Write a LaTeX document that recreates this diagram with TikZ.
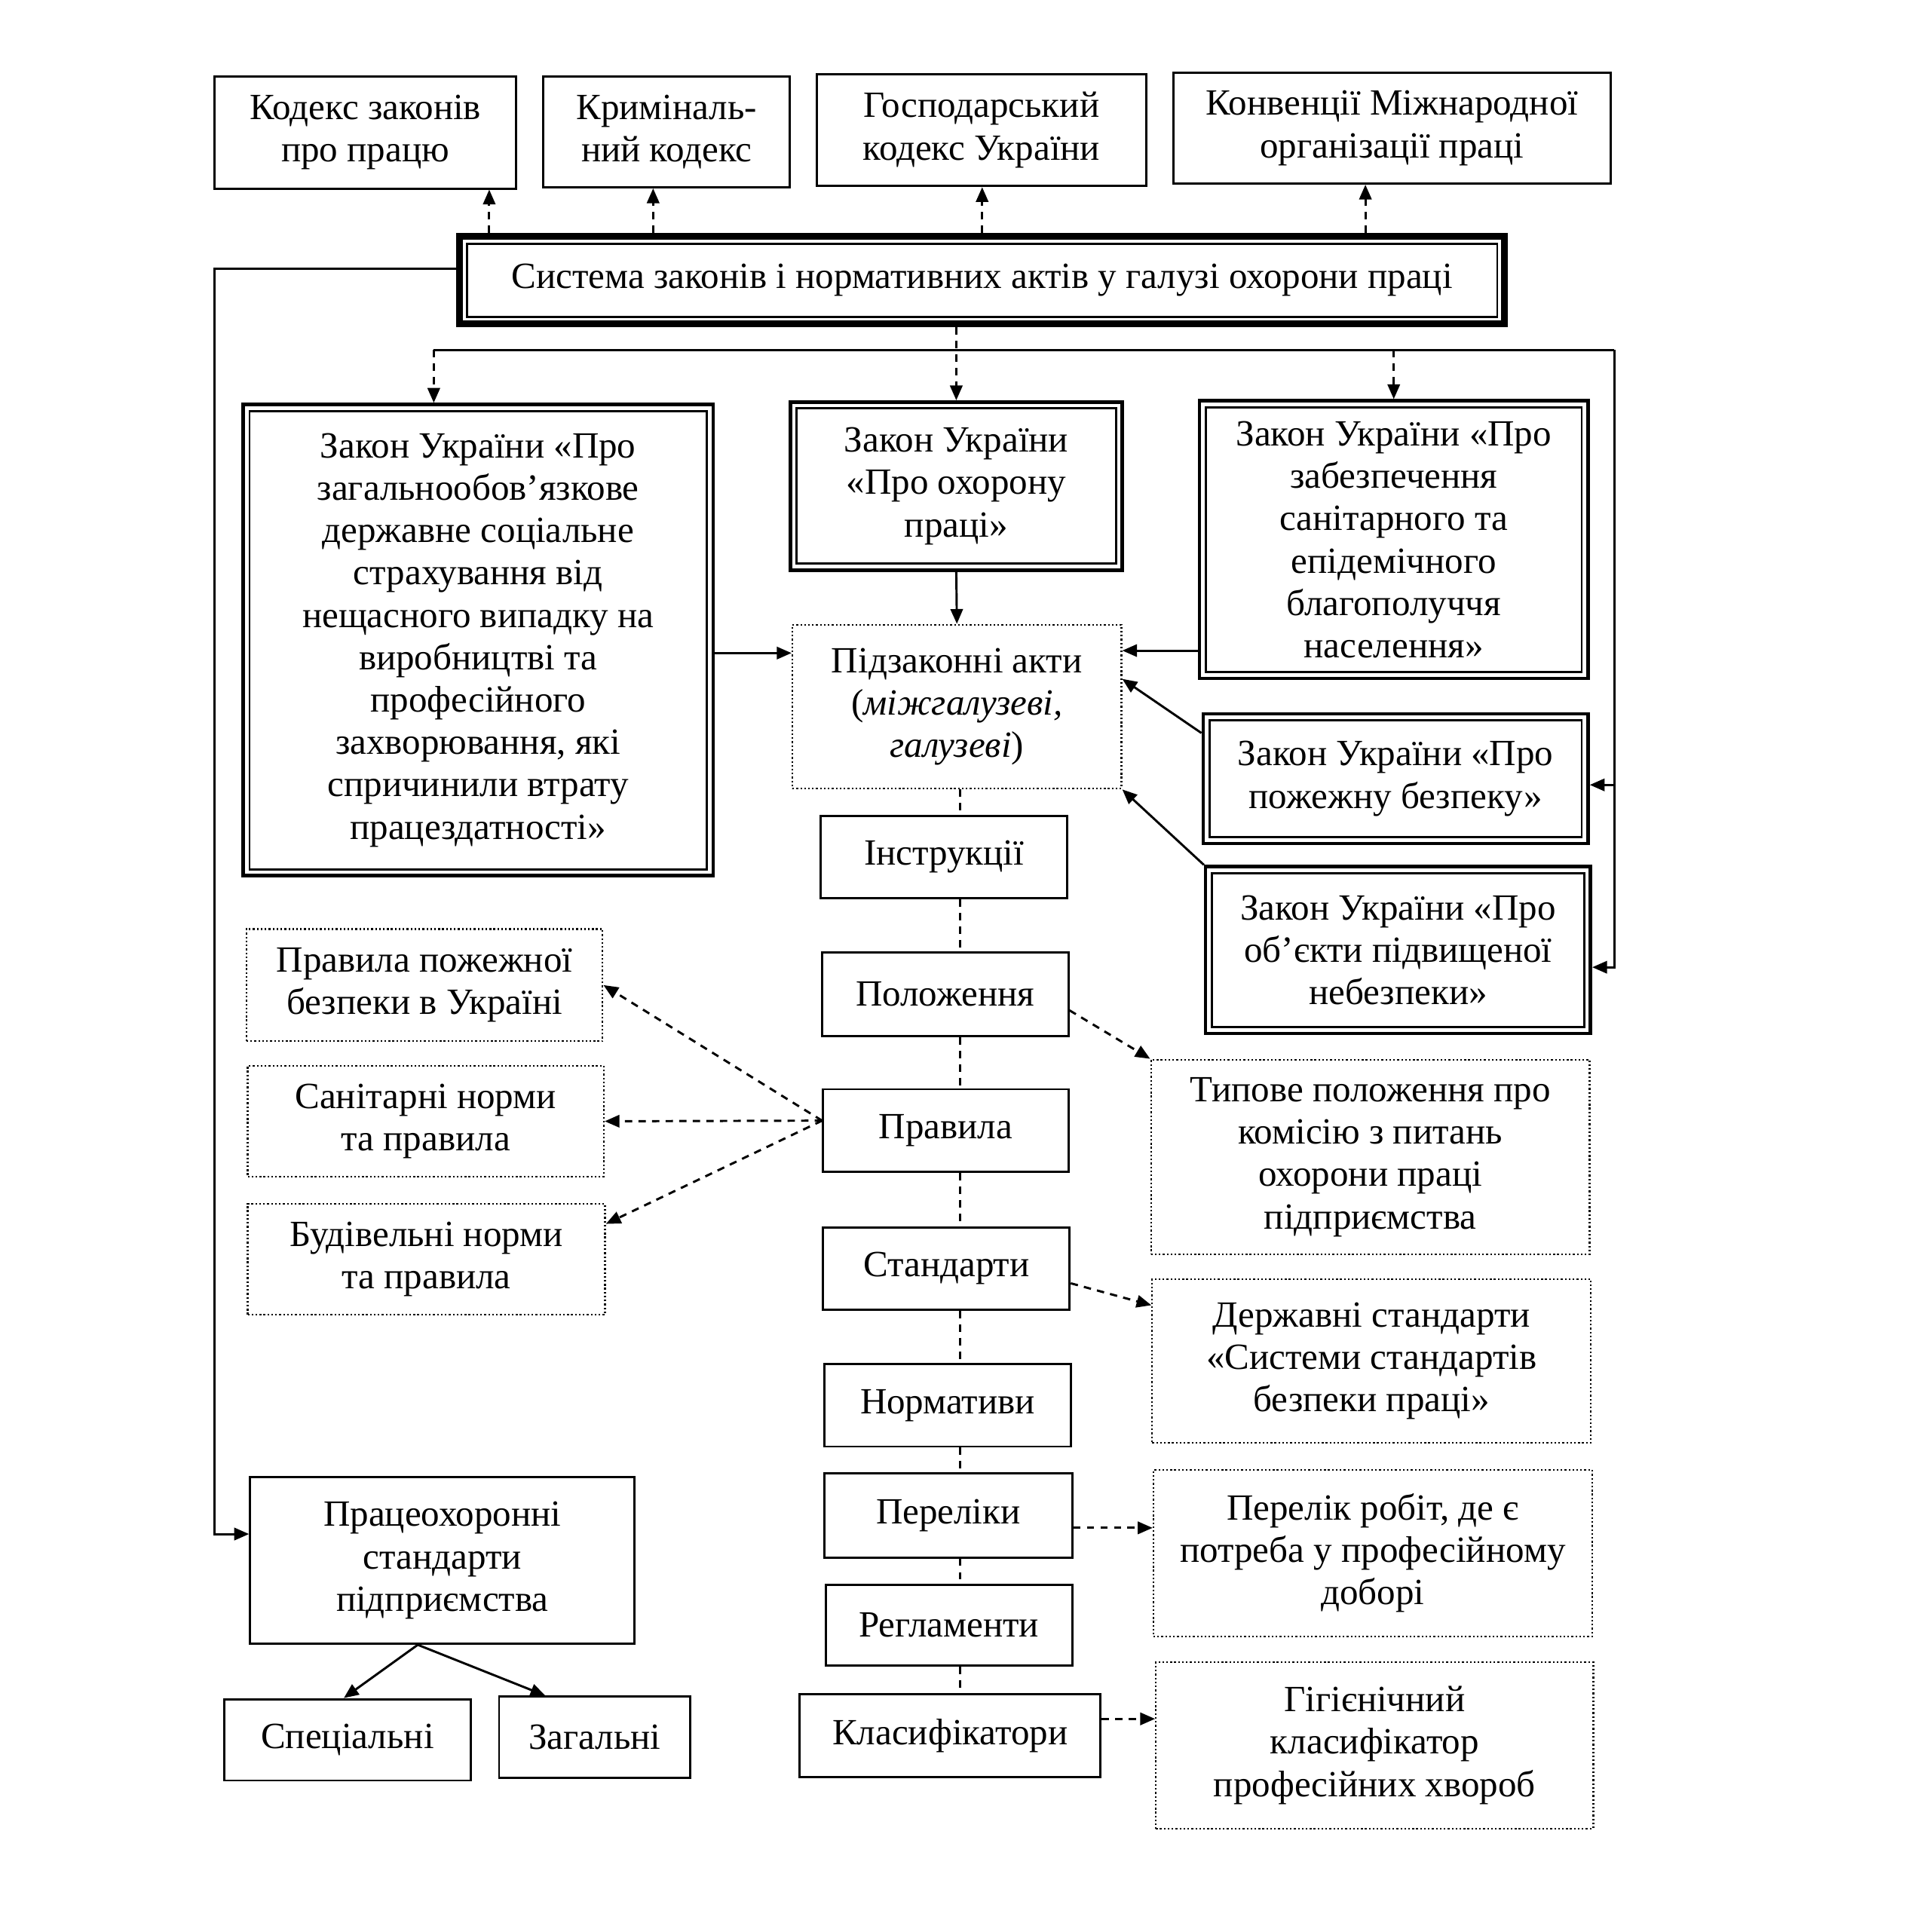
\documentclass[tikz,border=0pt]{standalone}
\usepackage{fontspec}
\setmainfont{Liberation Serif}
\usetikzlibrary{arrows.meta,calc}
\tikzset{
  txt/.style={font=\fontsize{15pt}{17.2pt}\selectfont, align=center, inner sep=0pt},
  plainbox/.style={txt, draw, line width=0.9pt, outer sep=0.45pt},
  dotbox/.style={txt, draw, line width=0.7pt, dash pattern=on 0.7pt off 0.9pt, outer sep=0.35pt},
  dblbox/.style={txt, draw, line width=1.4pt, outer sep=0.7pt,
    path picture={\draw[line width=0.9pt] ([xshift=2.6pt,yshift=-2.6pt]path picture bounding box.north west) rectangle ([xshift=-2.6pt,yshift=2.6pt]path picture bounding box.south east);}},
  sysbox/.style={txt, draw, line width=2.8pt, outer sep=1.4pt,
    path picture={\draw[line width=0.9pt] ([xshift=3pt,yshift=-3pt]path picture bounding box.north west) rectangle ([xshift=-3pt,yshift=3pt]path picture bounding box.south east);}},
  conn/.style={line width=0.9pt},
  sarr/.style={conn, -{Triangle[length=6pt,width=5pt]}},
  darr/.style={conn, dash pattern=on 3pt off 2.5pt, -{Triangle[length=6pt,width=5pt]}},
  dline/.style={conn, dash pattern=on 3pt off 2.5pt},
}
\begin{document}
\begin{tikzpicture}[x=0.5pt,y=-0.5pt]
\useasboundingbox (0,0) rectangle (1566,1568);

% top row
\node[plainbox, minimum width=122.5pt, minimum height=45.5pt] (k1) at (296.5,107.5) {Кодекс законів\\про працю};
\node[plainbox, minimum width=100pt, minimum height=45pt] (k2) at (541,107) {Криміналь-\\ний кодекс};
\node[plainbox, minimum width=133.5pt, minimum height=45.5pt] (k3) at (796.5,105.5) {Господарський\\кодекс України};
\node[plainbox, minimum width=177.5pt, minimum height=45pt] (k4) at (1129.5,104) {Конвенції Міжнародної\\організації праці};

% system
\node[sysbox, minimum width=424pt, minimum height=35.5pt] (sys) at (797,227.5) {Система законів і нормативних актів у галузі охорони праці};

% laws
\node[dblbox, minimum width=190.7pt, minimum height=191.2pt] (bl) at (388,519.5) {Закон України «Про\\загальнообов’язкове\\державне соціальне\\страхування від\\нещасного випадку на\\виробництві та\\професійного\\захворювання, які\\спричинили втрату\\працездатності»};
\node[dblbox, minimum width=134.7pt, minimum height=68.2pt] (ml) at (776,394.5) {Закон України\\«Про охорону\\праці»};
\node[dblbox, minimum width=157.7pt, minimum height=112.7pt] (rl) at (1131,438) {Закон України «Про\\забезпечення\\санітарного та\\епідемічного\\благополуччя\\населення»};
\node[dblbox, minimum width=156.2pt, minimum height=52.7pt] (pz) at (1132.5,632) {Закон України «Про\\пожежну безпеку»};
\node[dblbox, minimum width=156.2pt, minimum height=67.7pt] (ob) at (1134.5,771) {Закон України «Про\\об’єкти підвищеної\\небезпеки»};

% by-laws
\node[dotbox, minimum width=133.5pt, minimum height=66.5pt] (pa) at (776.5,573.5) {Підзаконні акти\\(\textit{міжгалузеві,}\\\textit{галузеві})};

% middle column
\node[plainbox, minimum width=100pt, minimum height=33.5pt] (in) at (766,695.5) {Інструкції};
\node[plainbox, minimum width=100pt, minimum height=34pt] (po) at (767,807) {Положення};
\node[plainbox, minimum width=99.5pt, minimum height=33.5pt] (pv) at (767.5,917.5) {Правила};
\node[plainbox, minimum width=100pt, minimum height=33.5pt] (st) at (768,1029.5) {Стандарти};
\node[plainbox, minimum width=100pt, minimum height=33.5pt] (nr) at (769,1140.5) {Нормативи};
\node[plainbox, minimum width=100.5pt, minimum height=34pt] (pl) at (769.5,1230) {Переліки};
\node[plainbox, minimum width=100pt, minimum height=33pt] (rg) at (770,1319) {Регламенти};
\node[plainbox, minimum width=122pt, minimum height=33.5pt] (kl) at (771,1408.5) {Класифікатори};

% left dotted
\node[dotbox, minimum width=144.5pt, minimum height=45.5pt] (pp) at (344.5,799.5) {Правила пожежної\\безпеки в Україні};
\node[dotbox, minimum width=144.5pt, minimum height=45pt] (sn) at (345.5,910) {Санітарні норми\\та правила};
\node[dotbox, minimum width=145pt, minimum height=45pt] (bd) at (346,1022) {Будівельні норми\\та правила};

% right dotted
\node[dotbox, minimum width=178pt, minimum height=79pt] (tp) at (1112,939) {Типове положення про\\комісію з питань\\охорони праці\\підприємства};
\node[dotbox, minimum width=178pt, minimum height=66.5pt] (ds) at (1113,1104.5) {Державні стандарти\\«Системи стандартів\\безпеки праці»};
\node[dotbox, minimum width=178pt, minimum height=67.5pt] (pr2) at (1114,1260.5) {Перелік робіт, де є\\потреба у професійному\\доборі};
\node[dotbox, minimum width=177.5pt, minimum height=67.5pt] (gg) at (1115.5,1416.5) {Гігієнічний\\класифікатор\\професійних хвороб};

% enterprise standards
\node[plainbox, minimum width=156pt, minimum height=67.5pt] (ps) at (359,1266.5) {Працеохоронні\\стандарти\\підприємства};
\node[plainbox, minimum width=100pt, minimum height=33pt] (sp) at (282,1412) {Спеціальні};
\node[plainbox, minimum width=77.5pt, minimum height=33pt] (zg) at (482.5,1410) {Загальні};

% coordinates
\coordinate (c1) at (397,0);
\coordinate (c2) at (530,0);
\coordinate (c3) at (797,0);
\coordinate (c4) at (1108,0);
\coordinate (fbTop) at (174,218);
\coordinate (fbBot) at (174,1245);
\coordinate (busL) at (352,284);
\coordinate (busR) at (1310,284);
\coordinate (rPz) at (1310,637);
\coordinate (rOb) at (1310,785);
\coordinate (yA) at (0,530);
\coordinate (yB) at (0,528);
\coordinate (colx) at (779,0);
\coordinate (yP) at (0,1240);
\coordinate (yK) at (0,1395);
\coordinate (pvS) at ($(pv.west)+(0,-8)$);
\coordinate (psA) at ($(ps.south)+(-20,0)$);

% top dashed arrows
\draw[darr] (sys.north -| c1) -- (k1.south -| c1);
\draw[darr] (sys.north -| c2) -- (k2.south -| c2);
\draw[darr] (sys.north -| c3) -- (k3.south -| c3);
\draw[darr] (sys.north -| c4) -- (k4.south -| c4);

% left feedback
\draw[sarr] (sys.west |- fbTop) -- (fbTop) -- (fbBot) -- (ps.west |- fbBot);

% bus
\draw[conn] (busL) -- (busR);
\draw[darr] (sys.south -| ml.north) -- (ml.north);
\draw[darr] (busL) -- (busL |- bl.north);
\draw[darr] (rl.north |- busL) -- (rl.north);
\draw[sarr] (busR) -- (rOb) -- (ob.east |- rOb);
\draw[sarr] (rPz) -- (pz.east |- rPz);

% into by-laws
\draw[sarr] (ml.south) -- (pa.north);
\draw[sarr] (bl.east |- yA) -- (pa.west |- yA);
\draw[sarr] (rl.west |- yB) -- (pa.east |- yB);
\draw[sarr] ($(pz.north west)+(0,17)$) -- ($(pa.east)+(0,-22.5)$);
\draw[sarr] (ob.north west) -- (pa.south east);

% middle column
\draw[dline] (pa.south -| colx) -- (in.north -| colx);
\draw[dline] (in.south -| colx) -- (po.north -| colx);
\draw[dline] (po.south -| colx) -- (pv.north -| colx);
\draw[dline] (pv.south -| colx) -- (st.north -| colx);
\draw[dline] (st.south -| colx) -- (nr.north -| colx);
\draw[dline] (nr.south -| colx) -- (pl.north -| colx);
\draw[dline] (pl.south -| colx) -- (rg.north -| colx);
\draw[dline] (rg.south -| colx) -- (kl.north -| colx);

% Правила to left
\draw[darr] (pvS) -- (pp.east);
\draw[darr] (pvS) -- (sn.east);
\draw[darr] (pvS) -- ($(bd.north east)+(0,17)$);

% right dashed arrows
\draw[darr] ($(po.east)+(0,13)$) -- (tp.north west);
\draw[darr] ($(st.east)+(0,12)$) -- ($(ds.north west)+(0,22)$);
\draw[darr] (pl.east |- yP) -- (pr2.west |- yP);
\draw[darr] (kl.east |- yK) -- (gg.west |- yK);

% enterprise standards
\draw[sarr] (psA) -- ($(sp.north)+(-3,0)$);
\draw[sarr] (psA) -- ($(zg.north)+(-40,0)$);
\end{tikzpicture}
\end{document}
